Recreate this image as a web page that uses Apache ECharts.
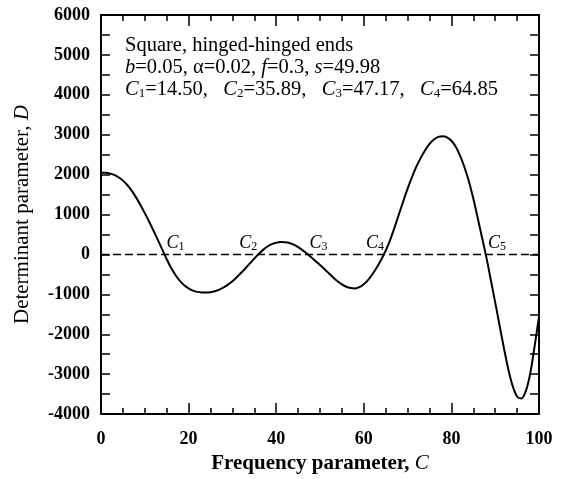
<!DOCTYPE html>
<html>
<head>
<meta charset="utf-8">
<script src="https://cdn.jsdelivr.net/npm/echarts@6/dist/echarts.min.js"></script>
<style>
  html, body { margin: 0; padding: 0; background: #fff; }
  #chart { width: 566px; height: 479px; }
</style>
</head>
<body>
<div id="chart"></div>
<script>
// curve, one value per unit of C (C = 0..100)
const freqStart = 0;
const det = [
  2050, 2046, 2030, 1995, 1935, 1850, 1740, 1600, 1430, 1240,
  1035, 820, 595, 360, 120, -120, -335, -515, -660, -770,
  -850, -905, -938, -952, -955, -945, -920, -880, -825, -755,
  -670, -570, -460, -345, -225, -105, 10, 115, 200, 260,
  295, 310, 305, 285, 245, 185, 110, 25, -70, -168,
  -265, -365, -470, -575, -670, -750, -810, -843, -850, -820,
  -745, -635, -490, -320, -125, 95, 360, 670, 1000, 1330,
  1650, 1940, 2200, 2420, 2610, 2770, 2880, 2945, 2965, 2935,
  2850, 2700, 2470, 2180, 1830, 1400, 920, 420, -80, -640,
  -1200, -1780, -2350, -2880, -3300, -3560, -3610, -3420, -2980, -2300,
  -1560
];
const freq = det.map((d, k) => freqStart + k);
const roots = [14.50, 35.89, 47.17, 64.85, 87.9];
const params = { b: '0.05', alpha: '0.02', f: '0.3', s: '49.98' };
const xTicks = { min: 0, max: 100, interval: 20 };
const yTicks = { min: -4000, max: 6000, interval: 1000 };

const serif = 'Liberation Serif, Times New Roman, serif';
const labelSide = ['right', 'left', 'right', 'left', 'right'];

const chart = echarts.init(document.getElementById('chart'), null, { renderer: 'canvas' });

const tickLabel = { color: '#000', fontFamily: serif, fontWeight: 'bold', fontSize: 18 };
const axisLine = { show: true, onZero: false, lineStyle: { color: '#000', width: 2 } };

function xAxis(pos, labels) {
  return {
    type: 'value', position: pos, ...xTicks,
    axisLine: axisLine,
    axisTick: { inside: true, length: 11, lineStyle: { color: '#000', width: 1.5 } },
    minorTick: { show: true, splitNumber: 4, length: 6, lineStyle: { color: '#000', width: 1.5 } },
    axisLabel: { show: labels, margin: 16, ...tickLabel },
    splitLine: { show: false }
  };
}
function yAxis(pos, labels) {
  return {
    type: 'value', position: pos, ...yTicks,
    axisLine: axisLine,
    axisTick: { inside: true, length: 9, lineStyle: { color: '#000', width: 1.5 } },
    minorTick: { show: true, splitNumber: 2, length: 9, lineStyle: { color: '#000', width: 1.5 } },
    axisLabel: { show: labels, margin: 11, formatter: v => String(v), ...tickLabel },
    splitLine: { show: false }
  };
}

const xBottom = xAxis('bottom', true);
xBottom.name = 'Frequency parameter, {i|C}';
xBottom.nameLocation = 'middle';
xBottom.nameGap = 30;
xBottom.nameTextStyle = {
  color: '#000', fontFamily: serif, fontWeight: 'bold', fontSize: 21,
  rich: { i: { fontFamily: serif, fontStyle: 'italic', fontWeight: 'normal', fontSize: 21, color: '#000' } }
};
const yLeft = yAxis('left', true);
yLeft.name = 'Determinant parameter, {i|D}';
yLeft.nameLocation = 'middle';
yLeft.nameGap = 68;
yLeft.nameTextStyle = {
  color: '#000', fontFamily: serif, fontSize: 21,
  rich: { i: { fontFamily: serif, fontStyle: 'italic', fontSize: 21, color: '#000' } }
};

const rich = {
  t: { fontFamily: serif, fontSize: 20.5, color: '#000', lineHeight: 22 },
  i: { fontFamily: serif, fontSize: 20.5, fontStyle: 'italic', color: '#000', lineHeight: 22 },
  s: { fontFamily: serif, fontSize: 13, color: '#000', padding: [8, 0, 0, 0], lineHeight: 22 }
};
const line3 = roots.slice(0, 4).map((r, k) => '{i|C}{s|' + (k + 1) + '}{t|=' + r.toFixed(2) + ',}')
  .join('{t|   }').replace(/,}$/, '}');

chart.setOption({
  animation: false,
  backgroundColor: '#fff',
  grid: { left: 101, right: 27, top: 15, bottom: 58 },
  xAxis: [xBottom, xAxis('top', false)],
  yAxis: [yLeft, yAxis('right', false)],
  series: [
    {
      type: 'line', data: freq.map((c, k) => [c, det[k]]),
      smooth: 0.3, symbol: 'none',
      lineStyle: { color: '#000', width: 2 }
    },
    {
      type: 'line', data: [[xTicks.min, 0], [xTicks.max, 0]], symbol: 'none',
      lineStyle: { color: '#000', width: 1.5, type: [8, 4] }
    }
  ]
});

// root labels C1..C5, placed through the axis scales
const rootLabels = roots.map((r, k) => {
  const p = chart.convertToPixel({ gridIndex: 0 }, [r, 0]);
  const right = labelSide[k] === 'right';
  return {
    type: 'text', x: p[0] + (right ? 2 : -1), y: p[1] - 11,
    style: {
      text: '{c|C}{n|' + (k + 1) + '}',
      align: right ? 'left' : 'right', verticalAlign: 'middle',
      rich: {
        c: { fontFamily: serif, fontSize: 18, fontStyle: 'italic', fill: '#000' },
        n: { fontFamily: serif, fontSize: 12, fill: '#000', padding: [7, 0, 0, 0] }
      }
    }
  };
});

chart.setOption({
  graphic: [{
    type: 'text', left: 125, top: 35,
    style: {
      text: [
        '{t|Square, hinged-hinged ends}',
        '{i|b}{t|=' + params.b + ', α=' + params.alpha + ', }{i|f}{t|=' + params.f + ', }{i|s}{t|=' + params.s + '}',
        line3
      ].join('\n'),
      rich: rich
    }
  }].concat(rootLabels)
});
</script>
</body>
</html>
